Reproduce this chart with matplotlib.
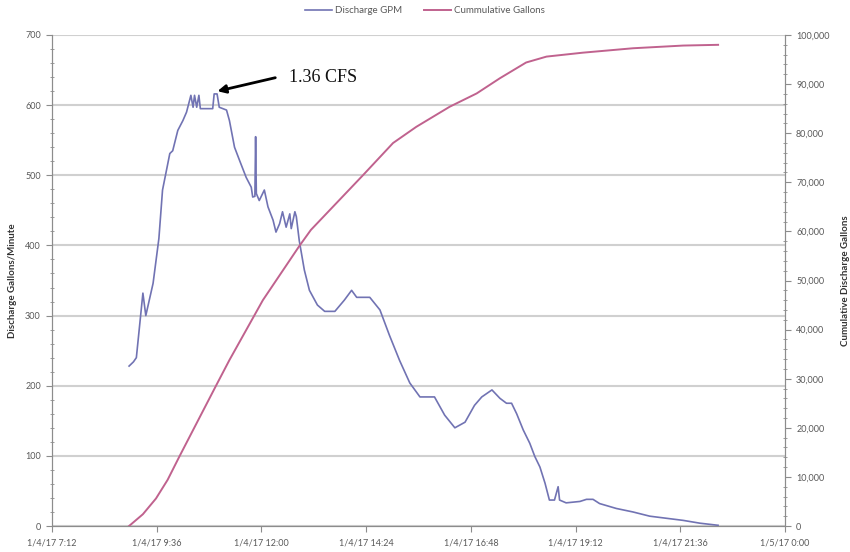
import numpy as np
import matplotlib
matplotlib.use("Agg")
import matplotlib.pyplot as plt
from matplotlib.ticker import MultipleLocator, FuncFormatter

# Discharge (gallons per minute)
gpm_times = ["8:58", "9:04", "9:08", "9:17", "9:21", "9:31", "9:39", "9:44", "9:54", "9:58",
             "10:05", "10:12", "10:17", "10:23", "10:26", "10:28", "10:31", "10:34", "10:36", "10:53",
             "10:55", "10:59", "11:02", "11:12", "11:16", "11:23", "11:30", "11:39", "11:46", "11:48",
             "11:51", "11:52", "11:53", "11:57", "12:04", "12:09", "12:16", "12:20", "12:25", "12:29",
             "12:34", "12:39", "12:41", "12:46", "12:48", "12:52", "12:59", "13:06", "13:17", "13:27",
             "13:41", "13:54", "14:04", "14:11", "14:29", "14:43", "14:56", "15:10", "15:24", "15:38",
             "15:58", "16:12", "16:26", "16:40", "16:53", "17:03", "17:17", "17:28", "17:37", "17:44",
             "17:51", "18:00", "18:09", "18:16", "18:23", "18:30", "18:36", "18:43", "18:48", "18:50",
             "18:59", "19:18", "19:27", "19:36", "19:45", "20:08", "20:31", "20:54", "21:17", "21:40",
             "22:03", "22:28"]
gpm_values = [228, 234, 240, 332, 300, 346, 410, 479, 531, 535,
              564, 578, 590, 614, 597, 614, 597, 614, 595, 595,
              616, 616, 597, 593, 578, 540, 521, 497, 483, 469,
              470, 555, 474, 464, 479, 455, 436, 419, 431, 448,
              426, 445, 424, 448, 441, 407, 365, 336, 315, 306,
              306, 322, 336, 326, 326, 308, 272, 236, 204, 184,
              184, 158, 140, 148, 172, 184, 194, 182, 175, 175,
              160, 137, 118, 99, 84, 61, 37, 37, 56, 37,
              33, 35, 38, 38, 32, 25, 20, 14, 11, 8,
              4, 1]

# Cumulative gallons
cum_times = ["8:58", "9:17", "9:35", "9:51", "10:07", "10:58", "11:16", "12:02", "12:52", "13:08",
             "14:20", "15:01", "15:33", "16:19", "16:56", "17:28", "18:04", "18:32", "19:22", "20:31",
             "21:40", "22:28"]
cum_values = [0, 2400, 5600, 9400, 14100, 28700, 33800, 46000, 57000, 60300,
              71500, 78000, 81300, 85400, 88100, 91200, 94400, 95600, 96400, 97300,
              97850, 98000]

x_tick_labels = ["1/4/17 7:12", "1/4/17 9:36", "1/4/17 12:00", "1/4/17 14:24",
                 "1/4/17 16:48", "1/4/17 19:12", "1/4/17 21:36", "1/5/17 0:00"]


def to_hours(times):
    out = []
    for t in times:
        h, m = t.split(":")
        out.append(int(h) + int(m) / 60.0)
    return np.array(out)


plt.rcParams['font.family'] = ['Lato', 'DejaVu Sans']
GRAY = "#595959"
AXIS = "#8c8c8c"

fig = plt.figure(figsize=(8.5, 5.52), dpi=100)
ax = fig.add_axes([52 / 850, 26 / 552, 733 / 850, 491 / 552])
ax2 = ax.twinx()

l1, = ax.plot(to_hours(gpm_times), gpm_values, color="#7173b3", lw=1.2,
              label="Discharge GPM", zorder=3)
l2, = ax2.plot(to_hours(cum_times), cum_values, color="#c0628e", lw=1.4,
               label="Cummulative Gallons", zorder=3)

ax.set_xlim(7.2, 24)
ax.set_ylim(0, 700)
ax2.set_ylim(0, 100000)

ax.set_xticks(np.arange(7.2, 24.01, 2.4))
ax.set_xticklabels(x_tick_labels)
ax.yaxis.set_major_locator(MultipleLocator(100))
ax.yaxis.set_minor_locator(MultipleLocator(20))
ax2.yaxis.set_major_locator(MultipleLocator(10000))
ax2.yaxis.set_minor_locator(MultipleLocator(2000))
ax2.yaxis.set_major_formatter(FuncFormatter(lambda v, p: f"{int(v):,}"))

ax.grid(axis="y", which="major", color="#d0d0d0", lw=1.5, zorder=0)
ax.set_axisbelow(True)

for a in (ax, ax2):
    a.spines["top"].set_visible(False)
    for s in ("left", "right", "bottom"):
        a.spines[s].set_color(AXIS)
        a.spines[s].set_linewidth(0.8)
    a.tick_params(which="major", colors=AXIS, labelcolor=GRAY, labelsize=6.5, length=4, width=0.8)
    a.tick_params(which="minor", colors=AXIS, length=3, width=0.6, direction="inout")
ax.tick_params(axis="x", pad=5)
ax.tick_params(axis="y", pad=4)
ax2.tick_params(axis="y", pad=4)

ax.set_ylabel("Discharge Gallons/Minute", fontsize=7, fontweight="bold", color="#333333", labelpad=6)
ax2.set_ylabel("Cumulative Discharge Gallons", fontsize=7, fontweight="bold", color="#333333",
               rotation=90, labelpad=8)

ax.annotate("", xy=(10.93, 619), xytext=(12.38, 640),
            arrowprops=dict(arrowstyle="-|>", color="black", lw=2, mutation_scale=12), zorder=5)
ax.text(12.64, 640, "1.36 CFS", fontsize=13, family=["Liberation Serif", "DejaVu Serif"],
        va="center", ha="left", color="#111111")

fig.legend(handles=[l1, l2], loc="upper center", bbox_to_anchor=(0.5, 1.005), ncol=2,
           frameon=False, fontsize=7, labelcolor=GRAY, handlelength=2.8, handletextpad=0.3,
           columnspacing=2.2)

fig.savefig("out.png", dpi=100)
